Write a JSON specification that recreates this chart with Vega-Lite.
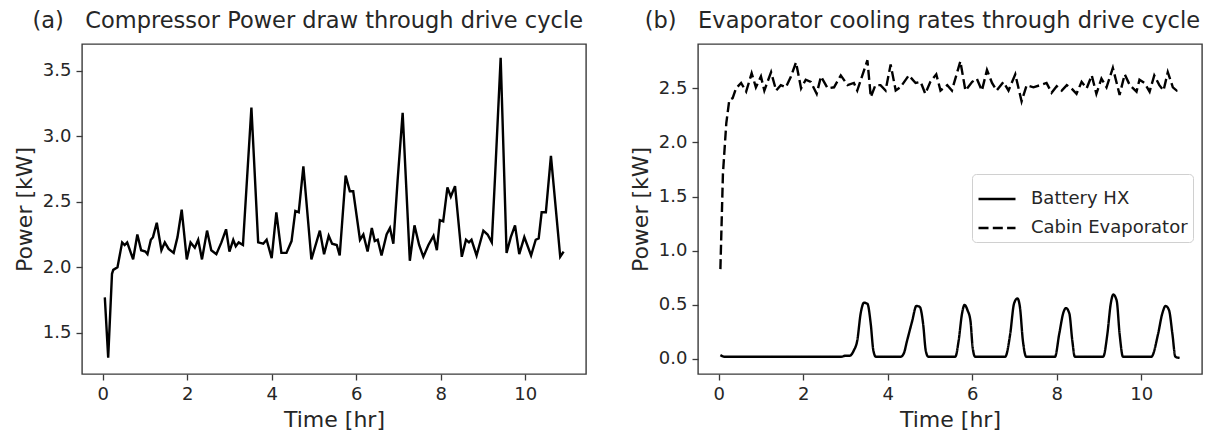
{
  "$schema": "https://vega.github.io/schema/vega-lite/v6.json",
  "padding": {"left": 12, "top": 8, "right": 5, "bottom": 0},
  "spacing": 112,
  "bounds": "flush",
  "datasets": {
    "comp": [
      {"t":0.05,"P":1.77},{"t":0.13,"P":1.31},{"t":0.22,"P":1.95},{"t":0.25,"P":1.98},{"t":0.35,"P":2.0},
      {"t":0.46,"P":2.19},{"t":0.52,"P":2.17},{"t":0.58,"P":2.19},{"t":0.72,"P":2.06},{"t":0.82,"P":2.25},
      {"t":0.91,"P":2.13},{"t":1.01,"P":2.12},{"t":1.06,"P":2.1},{"t":1.14,"P":2.21},{"t":1.19,"P":2.23},
      {"t":1.28,"P":2.34},{"t":1.39,"P":2.13},{"t":1.47,"P":2.19},{"t":1.56,"P":2.14},{"t":1.68,"P":2.11},
      {"t":1.77,"P":2.23},{"t":1.87,"P":2.44},{"t":1.99,"P":2.06},{"t":2.08,"P":2.19},{"t":2.18,"P":2.15},
      {"t":2.26,"P":2.21},{"t":2.35,"P":2.06},{"t":2.47,"P":2.28},{"t":2.57,"P":2.13},{"t":2.69,"P":2.1},
      {"t":2.81,"P":2.19},{"t":2.92,"P":2.29},{"t":3.0,"P":2.12},{"t":3.09,"P":2.21},{"t":3.15,"P":2.16},
      {"t":3.22,"P":2.19},{"t":3.32,"P":2.17},{"t":3.52,"P":3.22},{"t":3.68,"P":2.19},{"t":3.8,"P":2.18},
      {"t":3.88,"P":2.21},{"t":4.0,"P":2.07},{"t":4.11,"P":2.42},{"t":4.23,"P":2.11},{"t":4.35,"P":2.11},
      {"t":4.47,"P":2.2},{"t":4.56,"P":2.43},{"t":4.64,"P":2.42},{"t":4.75,"P":2.77},{"t":4.94,"P":2.06},
      {"t":5.14,"P":2.28},{"t":5.24,"P":2.1},{"t":5.35,"P":2.24},{"t":5.43,"P":2.18},{"t":5.54,"P":2.17},
      {"t":5.61,"P":2.09},{"t":5.75,"P":2.7},{"t":5.85,"P":2.58},{"t":5.93,"P":2.58},{"t":6.09,"P":2.21},
      {"t":6.17,"P":2.25},{"t":6.27,"P":2.12},{"t":6.37,"P":2.3},{"t":6.44,"P":2.2},{"t":6.51,"P":2.21},
      {"t":6.6,"P":2.09},{"t":6.72,"P":2.25},{"t":6.8,"P":2.3},{"t":6.88,"P":2.18},{"t":6.98,"P":2.66},
      {"t":7.1,"P":3.18},{"t":7.27,"P":2.05},{"t":7.38,"P":2.32},{"t":7.49,"P":2.17},{"t":7.59,"P":2.08},
      {"t":7.71,"P":2.17},{"t":7.83,"P":2.24},{"t":7.91,"P":2.13},{"t":7.98,"P":2.36},{"t":8.06,"P":2.35},
      {"t":8.16,"P":2.61},{"t":8.24,"P":2.54},{"t":8.34,"P":2.62},{"t":8.5,"P":2.08},{"t":8.6,"P":2.21},
      {"t":8.67,"P":2.19},{"t":8.73,"P":2.21},{"t":8.85,"P":2.09},{"t":9.01,"P":2.28},{"t":9.11,"P":2.25},
      {"t":9.21,"P":2.19},{"t":9.29,"P":2.71},{"t":9.42,"P":3.6},{"t":9.56,"P":2.11},{"t":9.66,"P":2.23},
      {"t":9.76,"P":2.32},{"t":9.86,"P":2.1},{"t":9.98,"P":2.23},{"t":10.14,"P":2.09},{"t":10.25,"P":2.21},
      {"t":10.32,"P":2.22},{"t":10.39,"P":2.42},{"t":10.49,"P":2.42},{"t":10.61,"P":2.85},{"t":10.83,"P":2.08},
      {"t":10.91,"P":2.12}
    ],
    "evap": [
      {"series":"Battery HX","t":0.04,"P":0.035},{"series":"Battery HX","t":0.15,"P":0.02},{"series":"Battery HX","t":1.5,"P":0.02},
      {"series":"Battery HX","t":2.9,"P":0.02},{"series":"Battery HX","t":3.0,"P":0.03},{"series":"Battery HX","t":3.1,"P":0.03},
      {"series":"Battery HX","t":3.2,"P":0.08},{"series":"Battery HX","t":3.28,"P":0.17},{"series":"Battery HX","t":3.36,"P":0.42},
      {"series":"Battery HX","t":3.44,"P":0.52},{"series":"Battery HX","t":3.52,"P":0.51},{"series":"Battery HX","t":3.6,"P":0.32},
      {"series":"Battery HX","t":3.66,"P":0.08},{"series":"Battery HX","t":3.72,"P":0.02},{"series":"Battery HX","t":4.3,"P":0.02},
      {"series":"Battery HX","t":4.38,"P":0.05},{"series":"Battery HX","t":4.46,"P":0.17},{"series":"Battery HX","t":4.58,"P":0.35},
      {"series":"Battery HX","t":4.68,"P":0.49},{"series":"Battery HX","t":4.76,"P":0.48},{"series":"Battery HX","t":4.84,"P":0.32},
      {"series":"Battery HX","t":4.9,"P":0.08},{"series":"Battery HX","t":4.96,"P":0.02},{"series":"Battery HX","t":5.6,"P":0.02},
      {"series":"Battery HX","t":5.68,"P":0.17},{"series":"Battery HX","t":5.76,"P":0.42},{"series":"Battery HX","t":5.82,"P":0.5},
      {"series":"Battery HX","t":5.89,"P":0.45},{"series":"Battery HX","t":5.96,"P":0.35},{"series":"Battery HX","t":6.01,"P":0.11},
      {"series":"Battery HX","t":6.07,"P":0.02},{"series":"Battery HX","t":6.78,"P":0.02},{"series":"Battery HX","t":6.9,"P":0.23},
      {"series":"Battery HX","t":6.99,"P":0.51},{"series":"Battery HX","t":7.07,"P":0.56},{"series":"Battery HX","t":7.13,"P":0.48},
      {"series":"Battery HX","t":7.2,"P":0.17},{"series":"Battery HX","t":7.28,"P":0.02},{"series":"Battery HX","t":7.96,"P":0.02},
      {"series":"Battery HX","t":8.06,"P":0.23},{"series":"Battery HX","t":8.16,"P":0.43},{"series":"Battery HX","t":8.22,"P":0.47},
      {"series":"Battery HX","t":8.3,"P":0.42},{"series":"Battery HX","t":8.37,"P":0.17},{"series":"Battery HX","t":8.43,"P":0.02},
      {"series":"Battery HX","t":9.1,"P":0.02},{"series":"Battery HX","t":9.2,"P":0.23},{"series":"Battery HX","t":9.28,"P":0.51},
      {"series":"Battery HX","t":9.34,"P":0.595},{"series":"Battery HX","t":9.42,"P":0.54},{"series":"Battery HX","t":9.49,"P":0.23},
      {"series":"Battery HX","t":9.57,"P":0.02},{"series":"Battery HX","t":10.24,"P":0.02},{"series":"Battery HX","t":10.4,"P":0.23},
      {"series":"Battery HX","t":10.5,"P":0.42},{"series":"Battery HX","t":10.58,"P":0.49},{"series":"Battery HX","t":10.66,"P":0.45},
      {"series":"Battery HX","t":10.74,"P":0.23},{"series":"Battery HX","t":10.81,"P":0.02},{"series":"Battery HX","t":10.91,"P":0.01},
      {"series":"Cabin Evaporator","t":0.04,"P":0.83},{"series":"Cabin Evaporator","t":0.1,"P":1.71},{"series":"Cabin Evaporator","t":0.18,"P":2.18},
      {"series":"Cabin Evaporator","t":0.25,"P":2.39},{"series":"Cabin Evaporator","t":0.33,"P":2.41},{"series":"Cabin Evaporator","t":0.41,"P":2.5},
      {"series":"Cabin Evaporator","t":0.53,"P":2.55},{"series":"Cabin Evaporator","t":0.65,"P":2.47},{"series":"Cabin Evaporator","t":0.78,"P":2.64},
      {"series":"Cabin Evaporator","t":0.88,"P":2.51},{"series":"Cabin Evaporator","t":1.0,"P":2.61},{"series":"Cabin Evaporator","t":1.08,"P":2.48},
      {"series":"Cabin Evaporator","t":1.24,"P":2.65},{"series":"Cabin Evaporator","t":1.36,"P":2.48},{"series":"Cabin Evaporator","t":1.47,"P":2.53},
      {"series":"Cabin Evaporator","t":1.59,"P":2.51},{"series":"Cabin Evaporator","t":1.71,"P":2.61},{"series":"Cabin Evaporator","t":1.83,"P":2.74},
      {"series":"Cabin Evaporator","t":1.95,"P":2.5},{"series":"Cabin Evaporator","t":2.06,"P":2.58},{"series":"Cabin Evaporator","t":2.18,"P":2.56},
      {"series":"Cabin Evaporator","t":2.32,"P":2.45},{"series":"Cabin Evaporator","t":2.42,"P":2.61},{"series":"Cabin Evaporator","t":2.58,"P":2.5},
      {"series":"Cabin Evaporator","t":2.73,"P":2.51},{"series":"Cabin Evaporator","t":2.89,"P":2.62},{"series":"Cabin Evaporator","t":3.05,"P":2.53},
      {"series":"Cabin Evaporator","t":3.2,"P":2.55},{"series":"Cabin Evaporator","t":3.28,"P":2.48},{"series":"Cabin Evaporator","t":3.4,"P":2.62},
      {"series":"Cabin Evaporator","t":3.52,"P":2.76},{"series":"Cabin Evaporator","t":3.6,"P":2.42},{"series":"Cabin Evaporator","t":3.71,"P":2.53},
      {"series":"Cabin Evaporator","t":3.83,"P":2.53},{"series":"Cabin Evaporator","t":3.95,"P":2.48},{"series":"Cabin Evaporator","t":4.07,"P":2.72},
      {"series":"Cabin Evaporator","t":4.19,"P":2.48},{"series":"Cabin Evaporator","t":4.3,"P":2.51},{"series":"Cabin Evaporator","t":4.5,"P":2.62},
      {"series":"Cabin Evaporator","t":4.66,"P":2.55},{"series":"Cabin Evaporator","t":4.78,"P":2.56},{"series":"Cabin Evaporator","t":4.89,"P":2.45},
      {"series":"Cabin Evaporator","t":5.01,"P":2.56},{"series":"Cabin Evaporator","t":5.15,"P":2.63},{"series":"Cabin Evaporator","t":5.25,"P":2.48},
      {"series":"Cabin Evaporator","t":5.41,"P":2.53},{"series":"Cabin Evaporator","t":5.52,"P":2.48},{"series":"Cabin Evaporator","t":5.72,"P":2.75},
      {"series":"Cabin Evaporator","t":5.84,"P":2.48},{"series":"Cabin Evaporator","t":6.0,"P":2.56},{"series":"Cabin Evaporator","t":6.11,"P":2.59},
      {"series":"Cabin Evaporator","t":6.23,"P":2.48},{"series":"Cabin Evaporator","t":6.35,"P":2.67},{"series":"Cabin Evaporator","t":6.47,"P":2.55},
      {"series":"Cabin Evaporator","t":6.58,"P":2.48},{"series":"Cabin Evaporator","t":6.74,"P":2.56},{"series":"Cabin Evaporator","t":6.86,"P":2.48},
      {"series":"Cabin Evaporator","t":7.02,"P":2.63},{"series":"Cabin Evaporator","t":7.17,"P":2.38},{"series":"Cabin Evaporator","t":7.29,"P":2.53},
      {"series":"Cabin Evaporator","t":7.45,"P":2.51},{"series":"Cabin Evaporator","t":7.61,"P":2.53},{"series":"Cabin Evaporator","t":7.76,"P":2.55},
      {"series":"Cabin Evaporator","t":7.88,"P":2.46},{"series":"Cabin Evaporator","t":8.0,"P":2.52},{"series":"Cabin Evaporator","t":8.12,"P":2.48},
      {"series":"Cabin Evaporator","t":8.24,"P":2.53},{"series":"Cabin Evaporator","t":8.35,"P":2.5},{"series":"Cabin Evaporator","t":8.47,"P":2.45},
      {"series":"Cabin Evaporator","t":8.59,"P":2.56},{"series":"Cabin Evaporator","t":8.71,"P":2.5},{"series":"Cabin Evaporator","t":8.83,"P":2.62},
      {"series":"Cabin Evaporator","t":8.94,"P":2.45},{"series":"Cabin Evaporator","t":9.06,"P":2.59},{"series":"Cabin Evaporator","t":9.18,"P":2.51},
      {"series":"Cabin Evaporator","t":9.33,"P":2.69},{"series":"Cabin Evaporator","t":9.49,"P":2.44},{"series":"Cabin Evaporator","t":9.61,"P":2.63},
      {"series":"Cabin Evaporator","t":9.73,"P":2.53},{"series":"Cabin Evaporator","t":9.89,"P":2.47},{"series":"Cabin Evaporator","t":9.96,"P":2.58},
      {"series":"Cabin Evaporator","t":10.08,"P":2.55},{"series":"Cabin Evaporator","t":10.2,"P":2.47},{"series":"Cabin Evaporator","t":10.31,"P":2.62},
      {"series":"Cabin Evaporator","t":10.43,"P":2.53},{"series":"Cabin Evaporator","t":10.53,"P":2.48},{"series":"Cabin Evaporator","t":10.63,"P":2.65},
      {"series":"Cabin Evaporator","t":10.75,"P":2.51},{"series":"Cabin Evaporator","t":10.84,"P":2.48},{"series":"Cabin Evaporator","t":10.9,"P":2.5}
    ]
  },
  "hconcat": [
    {
      "width": 504,
      "height": 330,
      "title": {"text": "(a)\u00a0\u00a0\u00a0Compressor Power draw through drive cycle", "dx": -3},
      "data": {"name": "comp"},
      "mark": {"type": "line", "color": "black", "strokeWidth": 2.4, "clip": true},
      "encoding": {
        "x": {"field": "t", "type": "quantitative",
              "scale": {"domain": [-0.49, 11.44], "nice": false, "zero": false},
              "axis": {"values": [0, 2, 4, 6, 8, 10], "title": "Time [hr]"}},
        "y": {"field": "P", "type": "quantitative",
              "scale": {"domain": [1.185, 3.705], "nice": false, "zero": false},
              "axis": {"values": [1.5, 2.0, 2.5, 3.0, 3.5], "format": ".1f", "title": "Power [kW]"}}
      }
    },
    {
      "width": 504,
      "height": 330,
      "title": {"text": "(b)\u00a0\u00a0\u00a0Evaporator cooling rates through drive cycle", "dx": -2},
      "data": {"name": "evap"},
      "encoding": {
        "x": {"field": "t", "type": "quantitative",
              "scale": {"domain": [-0.49, 11.44], "nice": false, "zero": false},
              "axis": {"values": [0, 2, 4, 6, 8, 10], "title": "Time [hr]"}},
        "y": {"field": "P", "type": "quantitative",
              "scale": {"domain": [-0.139, 2.91], "nice": false, "zero": false},
              "axis": {"values": [0, 0.5, 1.0, 1.5, 2.0, 2.5], "format": ".1f", "title": "Power [kW]"}},
        "strokeDash": {"field": "series", "type": "nominal",
              "scale": {"domain": ["Battery HX", "Cabin Evaporator"], "range": [[1, 0], [10, 4.3]]},
              "legend": {"title": null, "orient": "none", "legendX": 890, "legendY": 130,
                         "fillColor": "white", "strokeColor": "#d0d0d0", "cornerRadius": 4, "padding": 5,
                         "symbolType": "stroke", "symbolSize": 1369, "symbolStrokeWidth": 2.4, "symbolStrokeColor": "black",
                         "labelFontSize": 18, "labelColor": "#262626", "labelOffset": 14, "rowPadding": 0, "labelFont": "DejaVu Sans"}}
      },
      "layer": [
        {
          "transform": [{"filter": "datum.series === 'Battery HX'"}],
          "mark": {"type": "line", "color": "black", "strokeWidth": 2.4, "clip": true, "interpolate": "monotone"}
        },
        {
          "transform": [{"filter": "datum.series === 'Cabin Evaporator'"}],
          "mark": {"type": "line", "color": "black", "strokeWidth": 2.4, "clip": true}
        }
      ]
    }
  ],
  "config": {
    "font": "DejaVu Sans",
    "view": {"stroke": "#3a3a3a", "strokeWidth": 1.4},
    "axis": {"grid": false, "domain": false, "tickColor": "#3a3a3a", "tickSize": 6, "tickWidth": 1.3,
             "labelFontSize": 18, "labelColor": "#262626", "titleFontSize": 22, "titleFontWeight": "normal",
             "titleColor": "#262626", "labelPadding": 5, "titlePadding": 6, "labelFont": "DejaVu Sans", "titleFont": "DejaVu Sans"},
    "title": {"fontSize": 22.5, "fontWeight": "normal", "color": "#262626", "anchor": "end", "offset": 12, "font": "DejaVu Sans"}
  }
}
